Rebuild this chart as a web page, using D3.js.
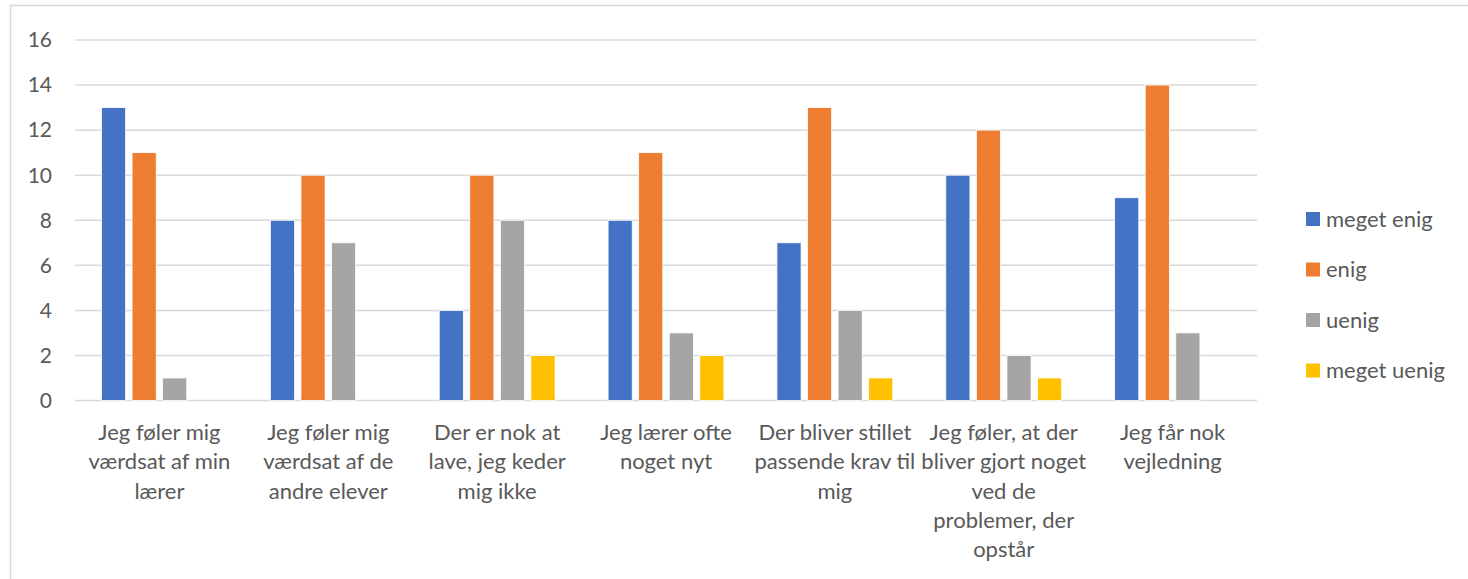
<!DOCTYPE html>
<html>
<head>
<meta charset="utf-8">
<script src="https://cdn.jsdelivr.net/npm/d3@7"></script>
<style>
  html, body { margin: 0; padding: 0; background: #fff; }
  svg { display: block; font-family: Lato, "Open Sans", sans-serif; }
</style>
</head>
<body>
<svg id="chart" width="1468" height="579"></svg>
<script>
const categories = [
  ["Jeg føler mig", "værdsat af min", "lærer"],
  ["Jeg føler mig", "værdsat af de", "andre elever"],
  ["Der er nok at", "lave, jeg keder", "mig ikke"],
  ["Jeg lærer ofte", "noget nyt"],
  ["Der bliver stillet", "passende krav til", "mig"],
  ["Jeg føler, at der", "bliver gjort noget", "ved de", "problemer, der", "opstår"],
  ["Jeg får nok", "vejledning"]
];
const seriesNames = ["meget enig", "enig", "uenig", "meget uenig"];
const megetEnig  = [13, 8, 4, 8, 7, 10, 9];
const enig       = [11, 10, 10, 11, 13, 12, 14];
const uenig      = [1, 7, 8, 3, 4, 2, 3];
const megetUenig = [0, 0, 2, 2, 1, 1, 0];
const yTicks = [0, 2, 4, 6, 8, 10, 12, 14, 16];
const colors = ["#4472C4", "#ED7D31", "#A5A5A5", "#FFC000"];

const seriesValues = [megetEnig, enig, uenig, megetUenig];
const catIdx = categories.map((c, i) => i);

const svg = d3.select("#chart");
const textColor = "#595959";
const gridColor = "#d9d9d9";
const fs = 22;

// chart border
svg.append("rect").attr("x", 10.5).attr("y", 5.5).attr("width", 1470).attr("height", 600)
  .attr("fill", "none").attr("stroke", gridColor).attr("stroke-width", 1.5);

const plot = { left: 75, right: 1257, top: 40, bottom: 400.5 };

const y = d3.scaleLinear().domain([0, 16]).range([plot.bottom, plot.top]);
const x0 = d3.scaleBand().domain(catIdx).range([plot.left, plot.right]).paddingInner(0).paddingOuter(0);
const groupPad = 26.5;
const x1 = d3.scaleBand().domain(seriesNames)
  .range([groupPad, x0.bandwidth() - groupPad]).paddingInner(0.21).paddingOuter(0);

// gridlines
svg.append("g").selectAll("line").data(yTicks).join("line")
  .attr("x1", plot.left).attr("x2", plot.right)
  .attr("y1", d => y(d)).attr("y2", d => y(d))
  .attr("stroke", gridColor).attr("stroke-width", 1.5);

// y tick labels
svg.append("g").selectAll("text").data(yTicks).join("text")
  .attr("x", 52).attr("y", d => y(d)).attr("dy", "0.35em")
  .attr("text-anchor", "end").attr("fill", textColor)
  .attr("font-size", 21).text(d => d);

// bars
const groups = svg.append("g").selectAll("g").data(catIdx).join("g")
  .attr("transform", i => `translate(${x0(i)},0)`);
groups.selectAll("rect")
  .data(i => seriesNames.map((s, k) => ({ s, k, v: seriesValues[k][i] })).filter(d => d.v > 0))
  .join("rect")
  .attr("x", d => x1(d.s))
  .attr("width", x1.bandwidth())
  .attr("y", d => y(d.v))
  .attr("height", d => y(0) - y(d.v))
  .attr("fill", d => colors[d.k])
  .attr("stroke", "#fff").attr("stroke-width", 0.8);

// category labels
const labels = svg.append("g").selectAll("text").data(catIdx).join("text")
  .attr("text-anchor", "middle").attr("fill", textColor).attr("font-size", fs)
  .attr("transform", i => `translate(${x0(i) + x0.bandwidth() / 2},440)`);
labels.selectAll("tspan").data(i => categories[i]).join("tspan")
  .attr("x", 0).attr("dy", (d, j) => j === 0 ? 0 : 29.3).text(d => d);

// legend
const legend = svg.append("g").selectAll("g").data(seriesNames).join("g")
  .attr("transform", (d, k) => `translate(1306,${219 + k * 50.5})`);
legend.append("rect").attr("x", 0).attr("y", -7).attr("width", 14).attr("height", 14)
  .attr("fill", (d, k) => colors[k]);
legend.append("text").attr("x", 20).attr("y", 0).attr("dy", "0.35em")
  .attr("fill", textColor).attr("font-size", fs).text(d => d);
</script>
</body>
</html>
